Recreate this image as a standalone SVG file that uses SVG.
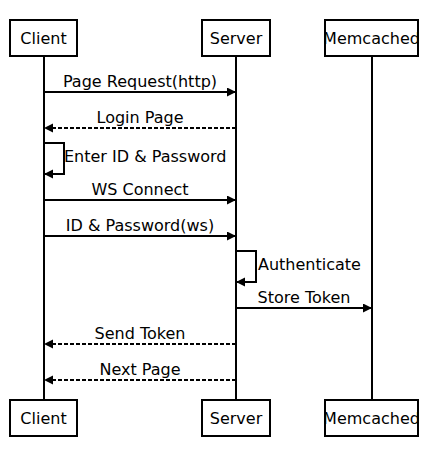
<svg xmlns="http://www.w3.org/2000/svg" width="448" height="456" viewBox="0 0 448 456">
<style>
text{font-family:"DejaVu Sans",sans-serif;font-size:16px;fill:#000}
.box{fill:none;stroke:#000;stroke-width:2}
.life{stroke:#000;stroke-width:2}
.msg{fill:none;stroke:#000;stroke-width:2}
.dash{stroke-dasharray:4,2}
.c{text-anchor:middle}
</style>
<defs>
<marker id="ah" markerUnits="userSpaceOnUse" markerWidth="10" markerHeight="10" refX="9" refY="4.5" orient="auto">
<path d="M0,0 L9,4.5 L0,9 z" fill="#000"/>
</marker>
</defs>
<rect width="448" height="456" fill="#fff"/>
<g id="lifelines">
<line class="life" x1="44" y1="56" x2="44" y2="400"/>
<line class="life" x1="236" y1="56" x2="236" y2="400"/>
<line class="life" x1="372" y1="56" x2="372" y2="400"/>
</g>
<g id="client-top"><text class="c" x="43.5" y="44">Client</text><rect class="box" x="10" y="20" width="67" height="36"/></g>
<g id="server-top"><text class="c" x="236" y="44">Server</text><rect class="box" x="202" y="20" width="68" height="36"/></g>
<g id="memcached-top"><text class="c" x="371.5" y="44">Memcached</text><rect class="box" x="325" y="20" width="93" height="36"/></g>
<g id="client-bottom"><text class="c" x="43.5" y="424">Client</text><rect class="box" x="10" y="400" width="67" height="36"/></g>
<g id="server-bottom"><text class="c" x="236" y="424">Server</text><rect class="box" x="202" y="400" width="68" height="36"/></g>
<g id="memcached-bottom"><text class="c" x="371.5" y="424">Memcached</text><rect class="box" x="325" y="400" width="93" height="36"/></g>
<g id="connectors">
<line class="msg" x1="44" y1="92" x2="236" y2="92" marker-end="url(#ah)"/>
<text class="c" x="140" y="87">Page Request(http)</text>
<line class="msg dash" x1="236" y1="128" x2="44" y2="128" marker-end="url(#ah)"/>
<text class="c" x="140" y="123">Login Page</text>
<path class="msg" d="M44,143 H64 V174 H44" marker-end="url(#ah)"/>
<text x="64" y="162">Enter ID &amp; Password</text>
<line class="msg" x1="44" y1="200" x2="236" y2="200" marker-end="url(#ah)"/>
<text class="c" x="140" y="195">WS Connect</text>
<line class="msg" x1="44" y1="236" x2="236" y2="236" marker-end="url(#ah)"/>
<text class="c" x="140" y="231">ID &amp; Password(ws)</text>
<path class="msg" d="M236,251 H256 V282 H236" marker-end="url(#ah)"/>
<text x="258" y="270">Authenticate</text>
<line class="msg" x1="236" y1="308" x2="372" y2="308" marker-end="url(#ah)"/>
<text class="c" x="304" y="303">Store Token</text>
<line class="msg dash" x1="236" y1="344" x2="44" y2="344" marker-end="url(#ah)"/>
<text class="c" x="140" y="339">Send Token</text>
<line class="msg dash" x1="236" y1="380" x2="44" y2="380" marker-end="url(#ah)"/>
<text class="c" x="140" y="375">Next Page</text>
</g>
</svg>
